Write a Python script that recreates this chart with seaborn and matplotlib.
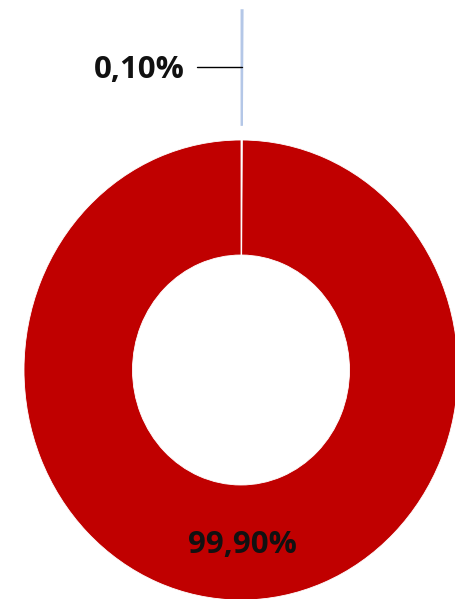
import matplotlib
matplotlib.use("Agg")
import matplotlib.pyplot as plt
import seaborn as sns

sns.set_theme(style="white")
plt.rcParams['font.family'] = ['Open Sans', 'DejaVu Sans']

categories = ["Small", "Main"]
values = [0.10, 99.90]
labels = ["0,10%", "99,90%"]
colors = ["#B4C7E7", "#C00000"]

W, H = 456, 599
fig = plt.figure(figsize=(W / 100, H / 100), dpi=100)
ax = fig.add_axes([0, 0, 1, 1])

cx, cy, rx, ry = 241, 370, 217, 230

wedges, _ = ax.pie(values, colors=colors, startangle=90, counterclock=False,
                   explode=[0.565, 0], radius=1.0,
                   wedgeprops=dict(width=0.5, edgecolor="white", linewidth=0.6),
                   normalize=True)
wedges[0].set_edgecolor(colors[0])
wedges[0].set_linewidth(1.2)
wedges[0].set_zorder(3)
ax.set_aspect("auto")
ax.set_xlim(-cx / rx, (W - cx) / rx)
ax.set_ylim(-(H - cy) / ry, cy / ry)


def px(x, y):
    return (x - cx) / rx, (cy - y) / ry


# leader line for small slice
x0, y0 = px(197, 67)
x1, y1 = px(242, 67)
ax.plot([x0, x1], [y0, y1], color="black", lw=1.0, zorder=4)

tx, ty = px(139, 70)
ax.text(tx, ty, labels[0], ha="center", va="center", fontsize=22.5,
        fontweight="bold", color="#111111")
tx, ty = px(242, 545)
ax.text(tx, ty, labels[1], ha="center", va="center", fontsize=22.5,
        fontweight="bold", color="#111111")

ax.axis("off")
fig.savefig("out.png", dpi=100)
